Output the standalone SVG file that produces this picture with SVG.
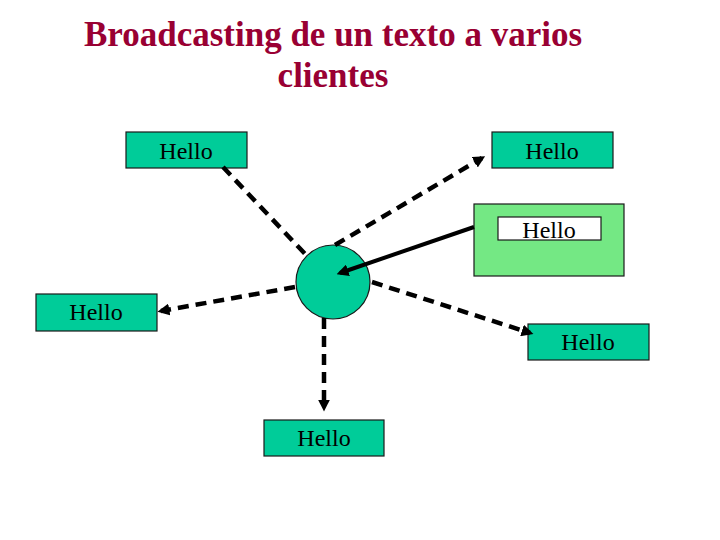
<svg xmlns="http://www.w3.org/2000/svg" width="720" height="540" viewBox="0 0 720 540">
<style>
.title{font-family:"Liberation Serif","Times New Roman",serif;font-weight:bold;font-size:35px;fill:#990033;text-anchor:middle}
.box{fill:#00CC99;stroke:#1a1a1a;stroke-width:1.2}
.lbl{font-family:"Liberation Serif","Times New Roman",serif;font-size:24px;fill:#000;text-anchor:middle}
.dash{stroke:#000;stroke-width:4.5;stroke-dasharray:11 7;fill:none}
.solid{stroke:#000;stroke-width:4;fill:none}
</style>
<defs>
<marker id="ah" viewBox="0 0 10 10" refX="7" refY="5" markerUnits="userSpaceOnUse" markerWidth="12" markerHeight="12" orient="auto">
<path d="M0,0 L10,5 L0,10 z" fill="#000"/>
</marker>
</defs>
<rect width="720" height="540" fill="#fff"/>
<text class="title" x="333" y="46">Broadcasting de un texto a varios</text>
<text class="title" x="333" y="87">clientes</text>

<g id="server">
<circle cx="333" cy="282" r="37" fill="#00CC99" stroke="#1a1a1a" stroke-width="1.2"/>
</g>

<g id="client-top-left">
<rect class="box" x="126" y="132" width="121" height="36"/>
<text class="lbl" x="186" y="159">Hello</text>
</g>
<g id="client-top-right">
<rect class="box" x="492" y="132" width="121" height="36"/>
<text class="lbl" x="552" y="159">Hello</text>
</g>
<g id="source">
<rect x="474" y="204" width="150" height="72" fill="#74E884" stroke="#1a1a1a" stroke-width="1.2"/>
<rect x="498" y="217" width="103" height="23" fill="#fff" stroke="#1a1a1a" stroke-width="1.2"/>
<text class="lbl" x="549" y="238">Hello</text>
</g>
<g id="client-left">
<rect class="box" x="36" y="294" width="121" height="37"/>
<text class="lbl" x="96" y="320">Hello</text>
</g>
<g id="client-bottom-right">
<rect class="box" x="528" y="324" width="121" height="36"/>
<text class="lbl" x="588" y="350">Hello</text>
</g>
<g id="client-bottom">
<rect class="box" x="264" y="420" width="120" height="36"/>
<text class="lbl" x="324" y="446">Hello</text>
</g>

<g id="connectors">
<line class="dash" x1="223" y1="167" x2="307" y2="256"/>
<line class="dash" x1="335" y1="245" x2="482" y2="158" marker-end="url(#ah)"/>
<line class="solid" x1="474" y1="227" x2="340" y2="273" marker-end="url(#ah)"/>
<line class="dash" x1="295" y1="287" x2="161" y2="311" marker-end="url(#ah)"/>
<line class="dash" x1="324" y1="318" x2="324" y2="408" marker-end="url(#ah)"/>
<line class="dash" x1="372" y1="282" x2="530" y2="333" marker-end="url(#ah)"/>
</g>
</svg>
